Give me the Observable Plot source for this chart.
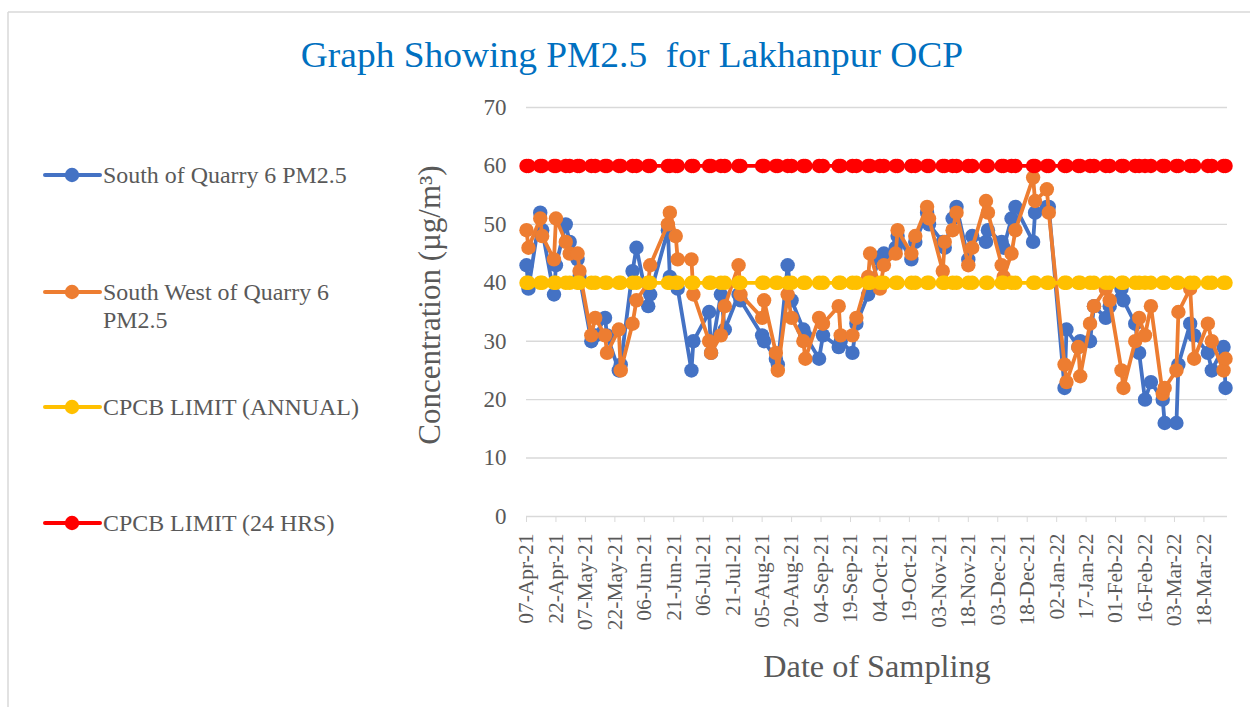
<!DOCTYPE html>
<html>
<head>
<meta charset="utf-8">
<script src="https://cdn.jsdelivr.net/npm/d3@7"></script>
<script src="https://cdn.jsdelivr.net/npm/@observablehq/plot@0.6"></script>
<style>
  html, body { margin: 0; padding: 0; background: #ffffff; }
  #wrap { position: relative; width: 1250px; height: 707px; overflow: hidden; font-family: "Liberation Serif", "Times New Roman", serif; }
  #chart { position: absolute; left: 0; top: 0; }
  #overlay { position: absolute; left: 0; top: 0; pointer-events: none; }
</style>
</head>
<body>
<div id="wrap">
  <div id="chart"></div>
  <svg id="overlay" width="1250" height="707" xmlns="http://www.w3.org/2000/svg"></svg>
</div>
<script>
// ---------------- DATA ----------------
const sampleDates = [
  "2021-04-07","2021-04-08","2021-04-14","2021-04-15","2021-04-21","2021-04-22","2021-04-27","2021-04-29",
  "2021-05-03","2021-05-04","2021-05-10","2021-05-12","2021-05-17","2021-05-18","2021-05-24","2021-05-25",
  "2021-05-31","2021-06-02","2021-06-08","2021-06-09","2021-06-18","2021-06-19","2021-06-22","2021-06-23",
  "2021-06-30","2021-07-01","2021-07-09","2021-07-10","2021-07-15","2021-07-17","2021-07-24","2021-07-25",
  "2021-08-05","2021-08-06","2021-08-12","2021-08-13","2021-08-18","2021-08-20","2021-08-26","2021-08-27",
  "2021-09-03","2021-09-05","2021-09-13","2021-09-14","2021-09-20","2021-09-22","2021-09-28","2021-09-29",
  "2021-10-04","2021-10-06","2021-10-12","2021-10-13","2021-10-20","2021-10-22","2021-10-28","2021-10-29",
  "2021-11-05","2021-11-06","2021-11-10","2021-11-12","2021-11-18","2021-11-20","2021-11-27","2021-11-28",
  "2021-12-05","2021-12-06","2021-12-10","2021-12-12","2021-12-21","2021-12-22","2021-12-28","2021-12-29",
  "2022-01-06","2022-01-07","2022-01-13","2022-01-14","2022-01-19","2022-01-21","2022-01-27","2022-01-29",
  "2022-02-04","2022-02-05","2022-02-11","2022-02-13","2022-02-16","2022-02-19","2022-02-25","2022-02-26",
  "2022-03-04","2022-03-05","2022-03-11","2022-03-13","2022-03-20","2022-03-22","2022-03-28","2022-03-29"
];

const southOfQuarry6 = [
  43,39,52,49,38,43,50,47,
  44,41,30,31,34,31,25,26,
  42,46,36,38,49,41,40,39,
  25,30,35,28,38,32,38,37,
  31,30,27,26,43,37,32,31,
  27,31,29,30,28,33,38,40,
  44,45,46,48,44,47,52,50,
  47,46,51,53,44,48,47,49,
  47,46,51,53,47,52,53,53,
  22,32,29,30,30,36,34,36,
  39,37,33,28,20,23,20,16,
  16,26,33,31,28,25,29,22
];

const southWestOfQuarry6 = [
  49,46,51,48,44,51,47,45,
  45,42,31,34,31,28,32,25,
  33,37,40,43,50,52,48,44,
  44,38,30,28,31,36,43,38,
  34,37,28,25,38,34,30,27,
  34,33,36,31,31,34,41,45,
  39,43,45,49,45,48,53,51,
  42,47,49,52,43,46,54,52,
  43,41,45,49,58,54,56,52,
  26,23,29,24,33,36,39,37,
  25,22,30,34,31,36,21,22,
  25,35,39,27,33,30,25,27
];

const cpcbAnnualLimit = 40;
const cpcb24HrLimit = 60;

const seriesNames = ["South of Quarry 6 PM2.5", "South West of Quarry 6 PM2.5", "CPCB LIMIT (ANNUAL)", "CPCB LIMIT (24 HRS)"];
const seriesColors = ["#4472C4", "#ED7D31", "#FFC000", "#FF0000"];

const xTickDates = [
  "2021-04-07","2021-04-22","2021-05-07","2021-05-22","2021-06-06","2021-06-21",
  "2021-07-06","2021-07-21","2021-08-05","2021-08-20","2021-09-04","2021-09-19",
  "2021-10-04","2021-10-19","2021-11-03","2021-11-18","2021-12-03","2021-12-18",
  "2022-01-02","2022-01-17","2022-02-01","2022-02-16","2022-03-03","2022-03-18"
];
const yTicks = [0, 10, 20, 30, 40, 50, 60, 70];
const xDomain = ["2021-04-07", "2022-03-30"];

const titleText = "Graph Showing PM2.5\u00A0 for Lakhanpur OCP";
const yTitle = "Concentration (\u00B5g/m\u00B3)";
const xTitle = "Date of Sampling";

// ---------------- BUILD ----------------
const parse = d3.utcParse("%Y-%m-%d");
const rows = sampleDates.map((d, i) => ({
  date: parse(d),
  south: southOfQuarry6[i],
  southWest: southWestOfQuarry6[i],
  annual: cpcbAnnualLimit,
  daily: cpcb24HrLimit
}));

const keys = ["south", "southWest", "annual", "daily"];
const seriesMarks = keys.flatMap((k, i) => [
  Plot.line(rows, {x: "date", y: k, stroke: seriesColors[i], strokeWidth: 3.8, strokeLinejoin: "round", strokeLinecap: "round"}),
  Plot.dot(rows, {x: "date", y: k, fill: seriesColors[i], r: 7.2, stroke: "none"})
]);

const fmt = d3.utcFormat("%d-%b-%y");

const chart = Plot.plot({
  width: 1250,
  height: 707,
  marginLeft: 526,
  marginRight: 23,
  marginTop: 107,
  marginBottom: 191,
  x: {type: "utc", domain: xDomain.map(parse)},
  y: {domain: [0, 70]},
  style: {fontFamily: "Liberation Serif", fontSize: "21px", color: "#595959", background: "transparent", overflow: "visible"},
  marks: [
    Plot.gridY(yTicks, {stroke: "#d9d9d9", strokeOpacity: 1, strokeWidth: 1.4}),
    Plot.axisY(yTicks, {tickSize: 0, tickPadding: 20, fontSize: 23, label: null, fill: "#595959"}),
    Plot.axisX(xTickDates.map(parse), {tickFormat: fmt, tickRotate: -90, tickSize: 6, tickPadding: 11, fontSize: 21.5, label: null, stroke: "#d9d9d9", fill: "#595959"}),
    ...seriesMarks
  ]
});
document.getElementById("chart").appendChild(chart);

// ---------------- OVERLAY: title, axis titles, legend, frame ----------------
const ov = d3.select("#overlay");
ov.append("line").attr("x1", 8).attr("y1", 12).attr("x2", 1250).attr("y2", 12).attr("stroke", "#d9d9d9").attr("stroke-width", 1.5);
ov.append("line").attr("x1", 8).attr("y1", 12).attr("x2", 8).attr("y2", 707).attr("stroke", "#d9d9d9").attr("stroke-width", 1.5);

const stretch = (x) => `translate(${x},0) scale(1.04,1) translate(${-x},0)`;

ov.append("text").attr("x", 632).attr("y", 67).attr("text-anchor", "middle")
  .attr("transform", stretch(632))
  .attr("font-family", "Liberation Serif").attr("font-size", 36).attr("fill", "#0070C0")
  .style("white-space", "pre").text(titleText);

ov.append("text").attr("transform", "translate(440,305) rotate(-90)").attr("text-anchor", "middle")
  .attr("font-family", "Liberation Serif").attr("font-size", 31).attr("fill", "#595959").text(yTitle);

ov.append("text").attr("x", 877).attr("y", 677).attr("text-anchor", "middle")
  .attr("transform", stretch(877))
  .attr("font-family", "Liberation Serif").attr("font-size", 31).attr("fill", "#595959").text(xTitle);

const legendY = [175, 292, 407, 523];
const legendLines = [[seriesNames[0]], ["South West of Quarry 6", "PM2.5"], [seriesNames[2]], [seriesNames[3]]];
legendY.forEach((y, i) => {
  const g = ov.append("g");
  g.append("line").attr("x1", 45).attr("x2", 100).attr("y1", y).attr("y2", y)
    .attr("stroke", seriesColors[i]).attr("stroke-width", 4).attr("stroke-linecap", "round");
  g.append("circle").attr("cx", 72).attr("cy", y).attr("r", 7.2).attr("fill", seriesColors[i]);
  const t = g.append("text").attr("x", 103).attr("y", y + 8)
    .attr("transform", stretch(103))
    .attr("font-family", "Liberation Serif").attr("font-size", 23).attr("fill", "#595959");
  legendLines[i].forEach((line, j) => {
    t.append("tspan").attr("x", 103).attr("dy", j === 0 ? 0 : 28).text(line);
  });
});
</script>
</body>
</html>
